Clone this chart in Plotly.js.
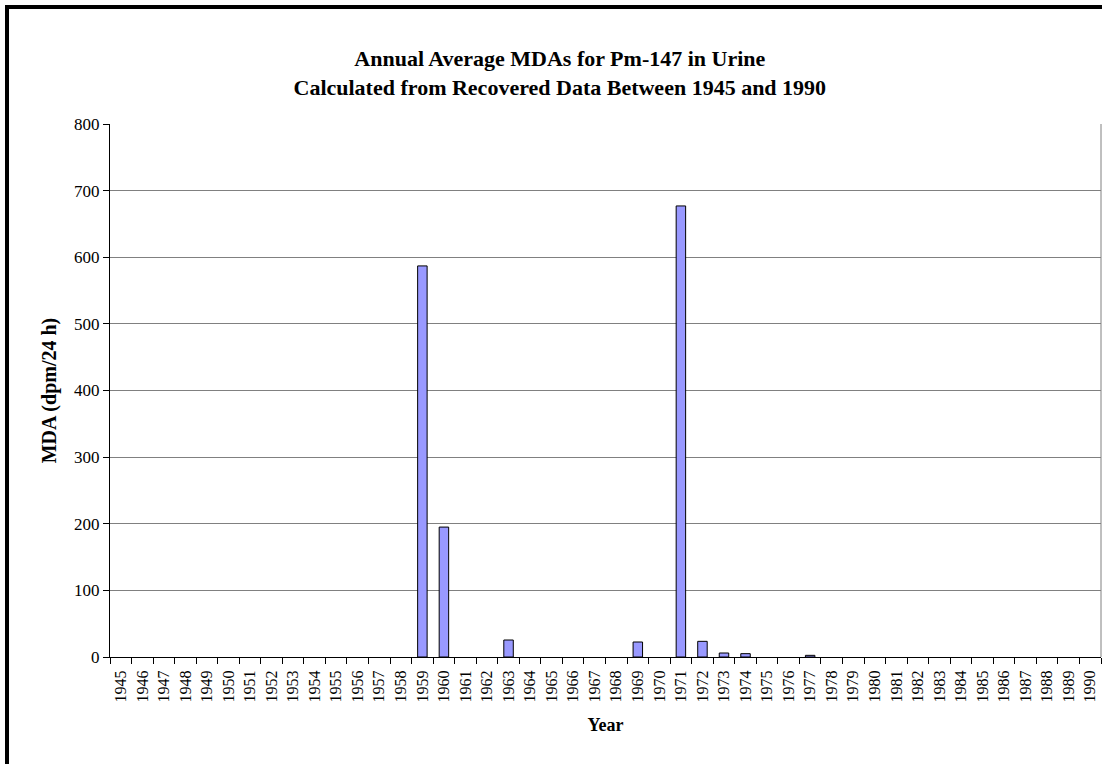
<!DOCTYPE html>
<html><head><meta charset="utf-8">
<script src="https://cdn.plot.ly/plotly-3.0.1.min.js"></script>
<style>
html,body{margin:0;padding:0;background:#fff;}
#frame{position:absolute;left:5px;top:5px;width:1097px;height:759px;border-left:4px solid #000;border-top:4px solid #000;box-sizing:border-box;pointer-events:none;}
#chart{position:absolute;left:0;top:0;width:1102px;height:764px;}
</style></head>
<body>
<div id="chart"></div>
<div id="frame"></div>
<script>
const years = [];
for (let y = 1945; y <= 1990; y++) years.push(String(y));
const dataYears = ["1959", "1960", "1963", "1969", "1971", "1972", "1973", "1974", "1977"];
const dataValues = [587, 195, 25.5, 22.5, 677, 23.5, 6, 5, 2.5];
const values = years.map(y => { const i = dataYears.indexOf(y); return i >= 0 ? dataValues[i] : null; });

const serif = "Liberation Serif, Times New Roman, serif";
const trace = {
  type: 'bar', x: years, y: values,
  marker: {color: '#9999FF', line: {color: '#000000', width: 1}},
  hoverinfo: 'x+y'
};
const layout = {
  width: 1102, height: 764,
  margin: {l: 110, r: 1, t: 124, b: 107},
  paper_bgcolor: '#ffffff', plot_bgcolor: '#ffffff',
  bargap: 0.56,
  showlegend: false,
  font: {family: serif, color: '#000'},
  title: {
    text: 'Annual Average MDAs for Pm-147 in Urine<br>Calculated from Recovered Data Between 1945 and 1990',
    font: {family: serif, size: 22, color: '#000', weight: 'bold'},
    x: 0.508, xanchor: 'center', y: 1 - 66 / 764, yanchor: 'middle'
  },
  xaxis: {
    type: 'category', tickangle: -90, tickson: 'boundaries',
    ticks: 'outside', ticklen: 6, tickcolor: '#000', ticklabelstandoff: 6,
    showline: true, linecolor: '#000', linewidth: 1,
    showgrid: false, tickfont: {family: serif, size: 16, color: '#000'},
    title: {text: 'Year', font: {family: serif, size: 18, color: '#000', weight: 'bold'}, standoff: 16}
  },
  yaxis: {
    range: [0, 800], dtick: 100, ticks: 'outside', ticklen: 6, tickcolor: '#000',
    showline: true, linecolor: '#000', linewidth: 1,
    showgrid: true, gridcolor: '#808080', gridwidth: 1, zeroline: false,
    tickfont: {family: serif, size: 17, color: '#000'},
    title: {text: 'MDA (dpm/24 h)', font: {family: serif, size: 20, color: '#000', weight: 'bold'}, standoff: 12}
  },
  shapes: [{type: 'line', xref: 'paper', yref: 'paper', x0: 1, x1: 1, y0: 0, y1: 1, line: {color: '#808080', width: 1}}]
};
Plotly.newPlot('chart', [trace], layout, {displayModeBar: false, staticPlot: true});
</script>
</body></html>
